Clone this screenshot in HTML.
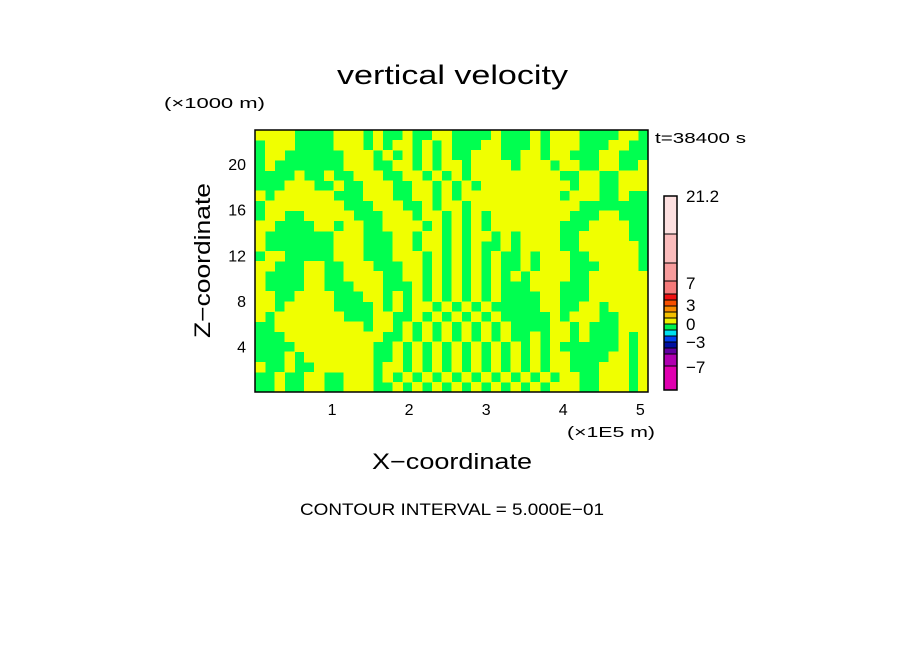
<!DOCTYPE html>
<html><head><meta charset="utf-8"><style>
body{margin:0;background:#fff;width:904px;height:654px;overflow:hidden}
text{font-family:"Liberation Sans","DejaVu Sans",sans-serif;fill:#000}
</style></head><body>
<svg id="chart" width="904" height="654" viewBox="0 0 904 654">
<text x="337" y="84" font-size="27" textLength="231" lengthAdjust="spacingAndGlyphs">vertical velocity</text>
<text x="164" y="108" font-size="15" textLength="101" lengthAdjust="spacingAndGlyphs">(×1000 m)</text>
<text x="655" y="143" font-size="15" textLength="91" lengthAdjust="spacingAndGlyphs">t=38400 s</text>
<text x="567" y="437" font-size="15" textLength="88" lengthAdjust="spacingAndGlyphs">(×1E5 m)</text>
<text x="372" y="469" font-size="22" textLength="160" lengthAdjust="spacingAndGlyphs">X−coordinate</text>
<text transform="translate(210,338) rotate(-90)" font-size="22" textLength="155" lengthAdjust="spacingAndGlyphs">Z−coordinate</text>
<text x="300" y="515" font-size="17" textLength="304" lengthAdjust="spacingAndGlyphs">CONTOUR INTERVAL = 5.000E−01</text>
<g id="cells" shape-rendering="crispEdges"></g>
<rect x="255" y="130" width="393" height="262" fill="none" stroke="#000" stroke-width="1.5"/>
<g id="ticks"></g>
<g id="cbar"></g>
</svg>
<script>
const xTicks=[1,2,3,4,5];
const yTicks=[4,8,12,16,20];
const gridRows=[
"YYYYGGGGYYYGYGGYGGYYGGGGYGGGYGYYYGGGGYYG",
"GYYYGGGGYYYGYGYYGYGYGGGYYGGGYGYYYGGGYYGG",
"GYYGGGGGGYYYGYGYGYGYGGYYYGGYYGYYGGGYYGGG",
"GYGGGGGGGYYYGGYYGYGYYGYYYYGYYYGYYGGYYGGY",
"GGGGYGGYGGYYYGGYYGYGYGYYYYYYYYYGGYYGGYYY",
"GGGYYYGGYGGYYYGGYYGYGYGYYYYYYYYYGYYGGYYY",
"YGYYYYYYGGGYYYGGYYGYGYYYYYYYYYYGYYYGGYGG",
"GYYYYYYYYGGGYYYGGYGYYGYYYYYYYYYYYGGGGGGG",
"GYYGGYYYYYGGGYYYGYYGYGYGYYYYYYYYGGGYYGGG",
"YYGGGGYYGYYGGYYYYGYGYGYGYYYYYYYGGGYYYYGG",
"YGGGGGGGYYYGGGYYGYYGYGYYGYGYYYYGGYYYYYGG",
"YGGGGGGGYYYGGGYYGYYGYGYGGYGYYYYGGYYYYYYG",
"GYYGGGGGYYYGGGYYYGYGYGYGYGGYGYYYGGYYYYYG",
"YYGGGYYGGYYYGGGYYGYGYGYGYGGYGYYYGGGYYYYG",
"YGGGGYYGGYYYYGGYYGYGYGYGYGYGYYYYGGYYYYYY",
"YGGGGYYGGGYYYGGGYGYGYGYGYGGGYYYGGGYYYYYY",
"YYGGYYYYGGGYYGYGYGYGYGYGYGGGGYYGGGYYYYYY",
"YYGYYYYYGGGGYGYGYYGYGYGYGGGGGYYGGYYGYYYY",
"YGYYYYYYYGGGYYGGYGYGYGYGYGGGGGYGYYYGGYYY",
"GGYYYYYYYYYGYYGYGYGYGYGYGYGGGGYYGYGGGYYY",
"GGGYYYYYYYYYYGGYGYGYGYGYGYGGYGYYGYGGGYGY",
"GGGGYYYYYYYYGGYGYGYGYGYGYGYGYGYGGGGGGYGY",
"GGGYGYYYYYYYGGYGYGYGYGYGYGYGYGYYGGGGYYGY",
"YGGYGGYYYYYYGYYGYGYGYGYGYGYGYGYYGGGYYYGY",
"GGYGGYYGGYYYGYGYGYGYGYGYGYGYGYGYYGGYYYGY",
"GGYGGYYGGYYYGGYGYGYGYGYGYGYGYGYYYGGYYYGY"];
const cbColors=["#fde0e0","#fbbcbc","#f89c9c","#f57a7a","#f01010","#f85000","#fa8c00","#f5c000","#f0f000","#00f050","#00e0f0","#0040f0","#0010a0","#6000a0","#b000b0","#e000b0"];
const cbLabels=["21.2","7","3","0","−3","−7"];

const X0=255,X1=648,Y0=392,Y1=130,XMAX=5.1,ZMAX=23;
const sx=v=>X0+v/XMAX*(X1-X0);
const sz=v=>Y0-v/ZMAX*(Y0-Y1);
const NS="http://www.w3.org/2000/svg";
function mk(t,a){const e=document.createElementNS(NS,t);for(const k in a)e.setAttribute(k,a[k]);return e;}
const cells=document.getElementById('cells');
const nr=gridRows.length,nc=gridRows[0].length;
cells.appendChild(mk('rect',{x:X0,y:Y1,width:X1-X0,height:Y0-Y1,fill:'#00ff50'}));
for(let r=0;r<nr;r++){for(let c=0;c<nc;c++){
 if(gridRows[r][c]!=='Y')continue;
 const zt=ZMAX*(1-r/nr),zb=ZMAX*(1-(r+1)/nr),xl=XMAX*c/nc,xr=XMAX*(c+1)/nc;
 const e=mk('rect',{x:sx(xl),y:sz(zt),width:sx(xr)-sx(xl)+0.5,height:sz(zb)-sz(zt)+0.5,fill:'#f0ff00'});
 
 
 cells.appendChild(e);
}}
const tk=document.getElementById('ticks');
xTicks.forEach(v=>{
 const t=mk('text',{x:sx(v),y:415,'font-size':16,'text-anchor':'middle'});t.textContent=v;
 
 
 tk.appendChild(t);
});
yTicks.forEach(v=>{
 const t=mk('text',{x:246,y:sz(v)+6,'font-size':16,'text-anchor':'end'});t.textContent=v;
 
 
 tk.appendChild(t);
});
const cb=document.getElementById('cbar');
const CB1=196;
const segPx=[38,29,18,13,6,6,6,6,6,6,6,6,6,6,12,24];
let yy=CB1;
cbColors.forEach((col,i)=>{
 const r=mk('rect',{x:664,y:yy,width:13,height:segPx[i],fill:col,stroke:'#000','stroke-width':1});
 
 
 cb.appendChild(r);yy+=segPx[i];
});
cb.appendChild(mk('rect',{x:664,y:CB1,width:13,height:yy-CB1,fill:'none',stroke:'#000','stroke-width':1.5}));
const labY=[202,289,311,330,348,373];
cbLabels.forEach((s,i)=>{
 const t=mk('text',{x:686,y:labY[i],'font-size':17});t.textContent=s;
 
 
 cb.appendChild(t);
});
</script>
</body></html>
